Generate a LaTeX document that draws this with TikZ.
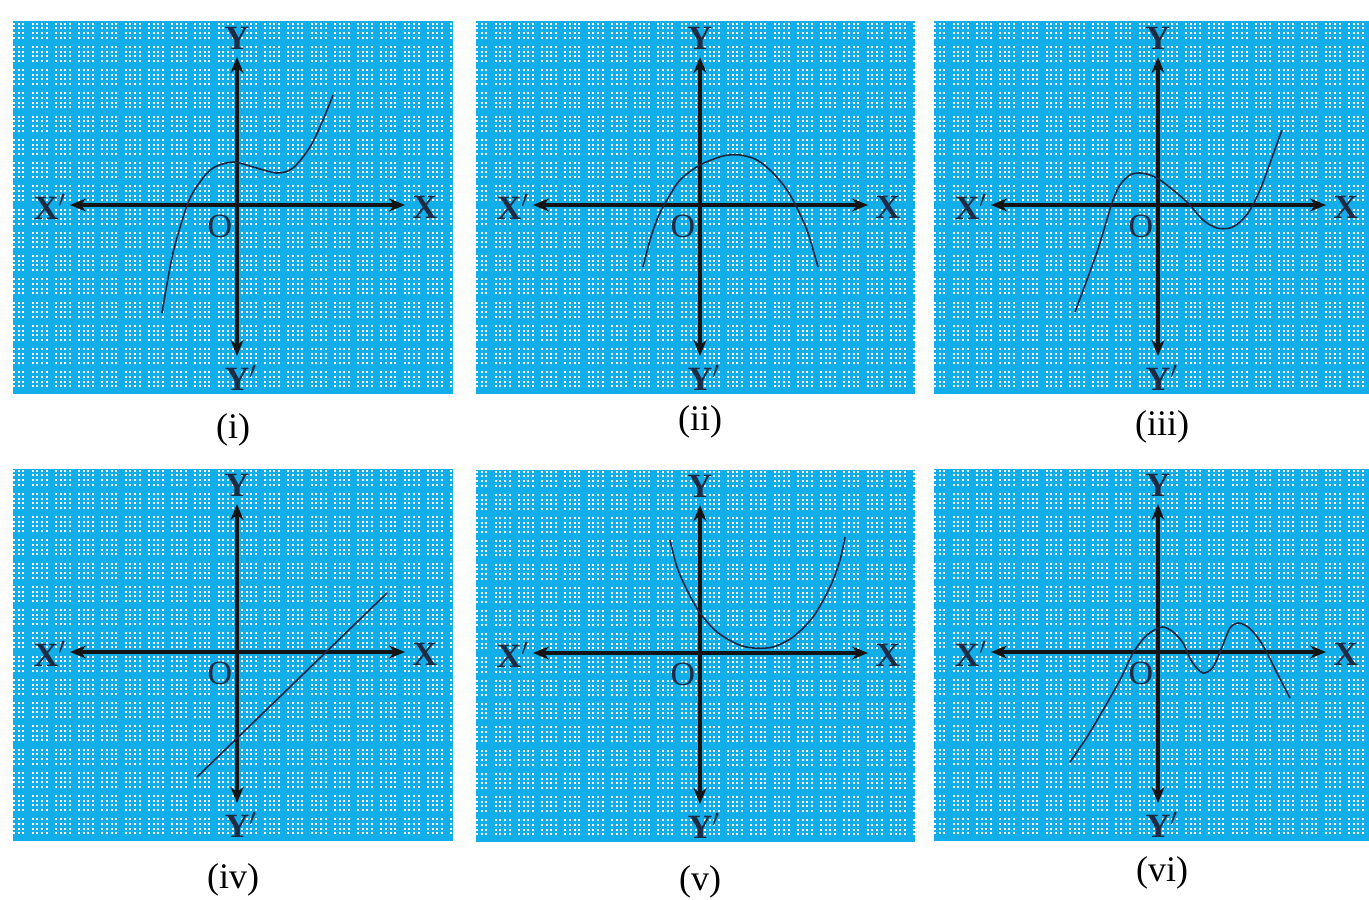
\documentclass[tikz,border=0pt]{standalone}
\usepackage{fontspec}
\setmainfont{Liberation Serif}
\usetikzlibrary{arrows.meta}
\definecolor{cian}{HTML}{12AEEA}
\definecolor{tinta}{HTML}{1C2541}
\definecolor{negro}{HTML}{141414}
\definecolor{marino}{HTML}{1E2B45}

\begin{document}
\begin{tikzpicture}[x=0.5pt, y=-0.5pt,
				fondo/.style={fill=cian},
				puntos/.style={white, line width=1pt, dash pattern=on 1pt off 1.325pt},
				raya/.style={cian, line width=3pt},
				rayita/.style={cian, line width=0.8pt},
				eje/.style={negro, line width=2pt, {Stealth[length=8pt,width=6.5pt]}-{Stealth[length=8pt,width=6.5pt]}},
				curva/.style={tinta, line width=0.8pt},
				etiq/.style={font=\fontsize{17}{17}\selectfont\bfseries, text=marino, inner sep=0pt},
				origen/.style={font=\fontsize{17}{17}\selectfont, text=marino, inner sep=0pt},
				pie/.style={font=\fontsize{18}{18}\selectfont, inner sep=0pt}]
				\fill[white] (0,0) rectangle (1369,899);
				% papel cuadriculado y ejes de cada panel
				\foreach \p/\ox/\oy/\r in {1/237/205/216, 2/700/205/215, 3/1158/205/211,
				                           4/237/652/216, 5/700/653/215, 6/1158/652/211}{
					\begin{scope}[shift={(\ox,\oy)}]
						\fill[fondo] (-224,-183) rectangle (\r,189);
						\begin{scope}
							\clip (-224,-183) rectangle (\r,189);
							\foreach \j in {-39,...,40}
								\draw[puntos] (-224,\j*4.65) -- (\r,\j*4.65);
							\foreach \k in {-5,...,4}{
								\draw[rayita] (\k*46.5+23.25,-183) -- (\k*46.5+23.25,189);
								\draw[rayita] (-224,\k*46.5+23.25) -- (\r,\k*46.5+23.25);
							}
							\foreach \k in {-4,...,4}{
								\draw[raya] (\k*46.5,-183) -- (\k*46.5,189);
								\draw[raya] (-224,\k*46.5) -- (\r,\k*46.5);
							}
						\end{scope}
						\coordinate (xi\p) at (-167,0);
						\coordinate (xd\p) at (168,0);
						\coordinate (ya\p) at (0,-148);
						\coordinate (yb\p) at (0,151);
						\draw[eje] (xi\p) -- (xd\p);
						\draw[eje] (ya\p) -- (yb\p);
						\node[etiq] (X\p)  at (188,2)   {X};
						\node[etiq] (Xp\p) at (-187,2)  {X$'$};
						\node[etiq] (Y\p)  at (0,-167)  {Y};
						\node[etiq] (Yp\p) at (4,173)   {Y$'$};
						\node[origen] (O\p) at (-17,21) {O};
					\end{scope}
				}
				% curvas
				\begin{scope}[shift={(237,205)}]
					\draw[curva] plot[smooth] coordinates {(-75,108) (-64,48) (-49,-2) (-37,-23) (-24,-37) (-4,-43) (16,-38) (40,-32) (56,-37) (73,-58) (86,-85) (96,-110)};
				\end{scope}
				\begin{scope}[shift={(700,205)}]
					\draw[curva] plot[smooth] coordinates {(-57,62) (-50,35) (-42,12) (-33,-5) (-20,-25) (0,-40) (23,-49) (40,-50) (57,-45) (73,-32) (87,-15) (98,5) (108,28) (118,62)};
				\end{scope}
				\begin{scope}[shift={(1158,205)}]
					\draw[curva] plot[smooth] coordinates {(-83,107) (-61,47) (-46,-2) (-38,-20) (-28,-30) (-18,-32) (-8,-30) (2,-25) (15,-15) (30,-2) (45,15) (59,23) (72,23) (82,17) (92,5) (102,-15) (112,-42) (124,-75)};
				\end{scope}
				\begin{scope}[shift={(237,652)}]
					\coordinate (r1) at (-40,125);
					\coordinate (r2) at (150,-59);
					\draw[curva] (r1) -- (r2);
				\end{scope}
				\begin{scope}[shift={(700,653)}]
					\draw[curva] plot[smooth] coordinates {(-30,-113) (-23,-86) (-13,-63) (0,-40) (17,-21) (37,-9) (53,-5) (73,-6) (93,-16) (113,-36) (130,-66) (140,-93) (145,-116)};
				\end{scope}
				\begin{scope}[shift={(1158,652)}]
					\draw[curva] plot[smooth] coordinates {(-88,110) (-71,85) (-55,58) (-38,28) (-25,1) (-11,-17) (4,-25) (15,-20) (25,-9) (34,10) (45,21) (55,15) (64,-5) (72,-24) (80,-29) (90,-25) (100,-14) (109,1) (119,21) (132,46)};
				\end{scope}
				% rotulos
				\node[pie] (c1) at (233,430)  {(i)};
				\node[pie] (c2) at (700,422)  {(ii)};
				\node[pie] (c3) at (1162,427) {(iii)};
				\node[pie] (c4) at (233,880)  {(iv)};
				\node[pie] (c5) at (700,882)  {(v)};
				\node[pie] (c6) at (1162,873) {(vi)};
			\end{tikzpicture}
\end{document}
